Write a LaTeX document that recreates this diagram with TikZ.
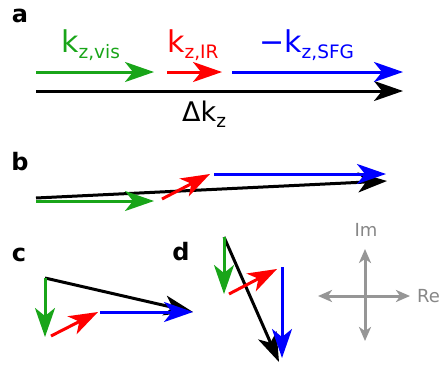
\documentclass[tikz,border=0pt]{standalone}
\usepackage{fontspec}
\setmainfont{DejaVu Sans}
\usetikzlibrary{arrows.meta}
\definecolor{vgreen}{RGB}{25,165,25}
\definecolor{vred}{RGB}{255,0,0}
\definecolor{vblue}{RGB}{0,0,255}
\definecolor{axgray}{RGB}{150,150,150}
\newcommand{\ksub}[1]{k\raisebox{-6pt}{\fontsize{18.5}{18.5}\selectfont #1}}
\tikzset{
  vec/.style={line width=3pt, -{Stealth[length=29pt,width=20pt,inset=8pt]}},
  axis/.style={line width=3pt, draw=axgray, {Stealth[length=14pt,width=12pt,inset=4pt]}-{Stealth[length=14pt,width=12pt,inset=4pt]}},
  panel/.style={inner sep=0pt, anchor=base, font=\fontsize{24}{24}\selectfont\bfseries},
  klab/.style={inner sep=0pt, anchor=base west, font=\fontsize{30}{30}\selectfont},
  axlab/.style={inner sep=0pt, text=axgray!90!black, font=\fontsize{18}{18}\selectfont}
}
\begin{document}
\begin{tikzpicture}[x=1pt,y=-1pt]
\useasboundingbox (0,0) rectangle (444,364);
% panel labels
\node[panel] (la) at (20,23) {a};
\node[panel] (lb) at (20,170) {b};
\node[panel] (lc) at (19,261) {c};
\node[panel] (ld) at (181,260) {d};
% panel a
\coordinate (ga1) at (36,72); \coordinate (ga2) at (154,72);
\coordinate (ra1) at (167,72); \coordinate (ra2) at (222,72);
\coordinate (ba1) at (232,72); \coordinate (ba2) at (403,72);
\coordinate (ka1) at (36,91); \coordinate (ka2) at (403,91);
\draw[vec] (ka1) -- (ka2);
\draw[vec,vgreen] (ga1) -- (ga2);
\draw[vec,vred] (ra1) -- (ra2);
\draw[vec,vblue] (ba1) -- (ba2);
\node[klab,text=vgreen] (tg) at (61,52) {\ksub{z,vis}};
\node[klab,text=vred] (tr) at (167,52) {\ksub{z,IR}};
\node[klab,text=vblue] (tb) at (259,52) {−\ksub{z,SFG}};
\node[klab,font=\fontsize{27}{27}\selectfont] (tk) at (182,121) {Δ\ksub{z}};
% panel b
\coordinate (gb1) at (36,201); \coordinate (gb2) at (154,201);
\coordinate (rb1) at (162,199); \coordinate (rb2) at (210,174);
\coordinate (bb1) at (214,174); \coordinate (bb2) at (386,174);
\coordinate (kb1) at (36,198); \coordinate (kb2) at (387,181);
\draw[vec] (kb1) -- (kb2);
\draw[vec,vgreen] (gb1) -- (gb2);
\draw[vec,vred] (rb1) -- (rb2);
\draw[vec,vblue] (bb1) -- (bb2);
% panel c
\coordinate (gc1) at (45,278); \coordinate (gc2) at (45,337);
\coordinate (rc1) at (51,336); \coordinate (rc2) at (98,312);
\coordinate (bc1) at (100,312); \coordinate (bc2) at (193,312);
\draw[vec] (gc1) -- (bc2);
\draw[vec,vgreen] (gc1) -- (gc2);
\draw[vec,vred] (rc1) -- (rc2);
\draw[vec,vblue] (bc1) -- (bc2);
% panel d
\coordinate (gd1) at (224,237); \coordinate (gd2) at (224,294);
\coordinate (rd1) at (229,294); \coordinate (rd2) at (277,269);
\coordinate (bd1) at (282,267); \coordinate (bd2) at (282,358);
\coordinate (kd2) at (279,362);
\draw[vec] (gd1) -- (kd2);
\draw[vec,vgreen] (gd1) -- (gd2);
\draw[vec,vred] (rd1) -- (rd2);
\draw[vec,vblue] (bd1) -- (bd2);
% axes
\coordinate (axl) at (318,296); \coordinate (axr) at (410,296);
\coordinate (axt) at (365,249); \coordinate (axb) at (365,341);
\draw[axis] (axl) -- (axr);
\draw[axis] (axb) -- (axt);
\node[axlab] (im) at (366,230) {Im};
\node[axlab,anchor=west] (re) at (417,296) {Re};
\end{tikzpicture}
\end{document}
